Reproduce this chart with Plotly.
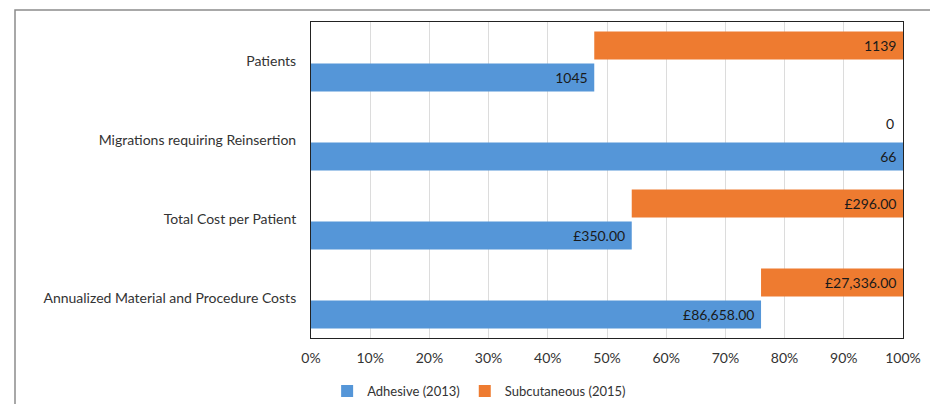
import plotly.graph_objects as go

categories = ["Patients", "Migrations requiring Reinsertion", "Total Cost per Patient",
              "Annualized Material and Procedure Costs"]
adhesive = [1045, 66, 350, 86658]
subcutaneous = [1139, 0, 296, 27336]
adhesive_labels = ["1045", "66", "£350.00", "£86,658.00"]
subcutaneous_labels = ["1139", "0", "£296.00", "£27,336.00"]
x_ticks = [0, 10, 20, 30, 40, 50, 60, 70, 80, 90, 100]

adh_pct = [a / (a + s) * 100 for a, s in zip(adhesive, subcutaneous)]
sub_pct = [s / (a + s) * 100 for a, s in zip(adhesive, subcutaneous)]

FONT = "Lato"
FS = 14
BLUE = "#5596d8"
ORANGE = "#ee7b30"

fig = go.Figure()
fig.add_trace(go.Bar(
    y=categories, x=adh_pct, orientation="h", name="Adhesive (2013)",
    marker=dict(color=BLUE, line=dict(width=0)),
    width=0.355, offset=0.025,
    text=[l + " " for l in adhesive_labels], textposition="inside", insidetextanchor="end",
    textfont=dict(family=FONT, size=FS, color="#1a1a1a"),
    cliponaxis=False,
))
fig.add_trace(go.Bar(
    y=categories, x=sub_pct, base=adh_pct, orientation="h", name="Subcutaneous (2015)",
    marker=dict(color=ORANGE, line=dict(width=0)),
    width=0.355, offset=-0.38,
    text=[l + " " if p > 0 else "" for l, p in zip(subcutaneous_labels, sub_pct)],
    textposition="inside", insidetextanchor="end",
    textfont=dict(family=FONT, size=FS, color="#1a1a1a"),
    cliponaxis=False,
))

# zero-length bars get their label as an annotation at the bar's end
for cat, base, p, lab in zip(categories, adh_pct, sub_pct, subcutaneous_labels):
    if p == 0:
        fig.add_annotation(x=base + p, y=cat, text=lab, showarrow=False,
                           xanchor="right", yanchor="middle", xshift=-7, yshift=17,
                           font=dict(family=FONT, size=FS, color="#1a1a1a"))

# outer chart frame
fig.add_shape(type="rect", xref="paper", yref="paper", x0=-0.5, x1=1.2, y0=-0.4, y1=1.038,
              line=dict(color="#8c8c8c", width=1.5), layer="below")

fig.update_layout(
    width=930, height=404,
    margin=dict(l=311, r=27, t=22, b=66, autoexpand=False),
    barmode="overlay",
    paper_bgcolor="white", plot_bgcolor="white",
    font=dict(family=FONT, size=FS, color="#333333"),
    showlegend=True,
    legend=dict(orientation="h", x=0.284, xanchor="center", y=-0.168, yanchor="middle",
                font=dict(family=FONT, size=13, color="#333333"),
                traceorder="normal", itemwidth=30),
    xaxis=dict(range=[0, 100], tickvals=x_ticks, ticktext=[f"{t}%" for t in x_ticks],
               showgrid=True, gridcolor="#dcdcdc", gridwidth=1, zeroline=False,
               showline=True, linecolor="#222222", linewidth=1, mirror=True,
               ticks="outside", ticklen=7, tickcolor="rgba(0,0,0,0)",
               tickfont=dict(family=FONT, size=FS, color="#333333"), fixedrange=True),
    yaxis=dict(categoryorder="array", categoryarray=categories,
               range=[3.5, -0.5],
               showgrid=False, zeroline=False,
               showline=True, linecolor="#222222", linewidth=1, mirror=True,
               ticks="outside", ticklen=11, tickcolor="rgba(0,0,0,0)",
               tickfont=dict(family=FONT, size=FS, color="#333333"), fixedrange=True),
)

fig.write_html("out.html", post_script="document.body.style.margin='0';",
               config={"displayModeBar": False})
